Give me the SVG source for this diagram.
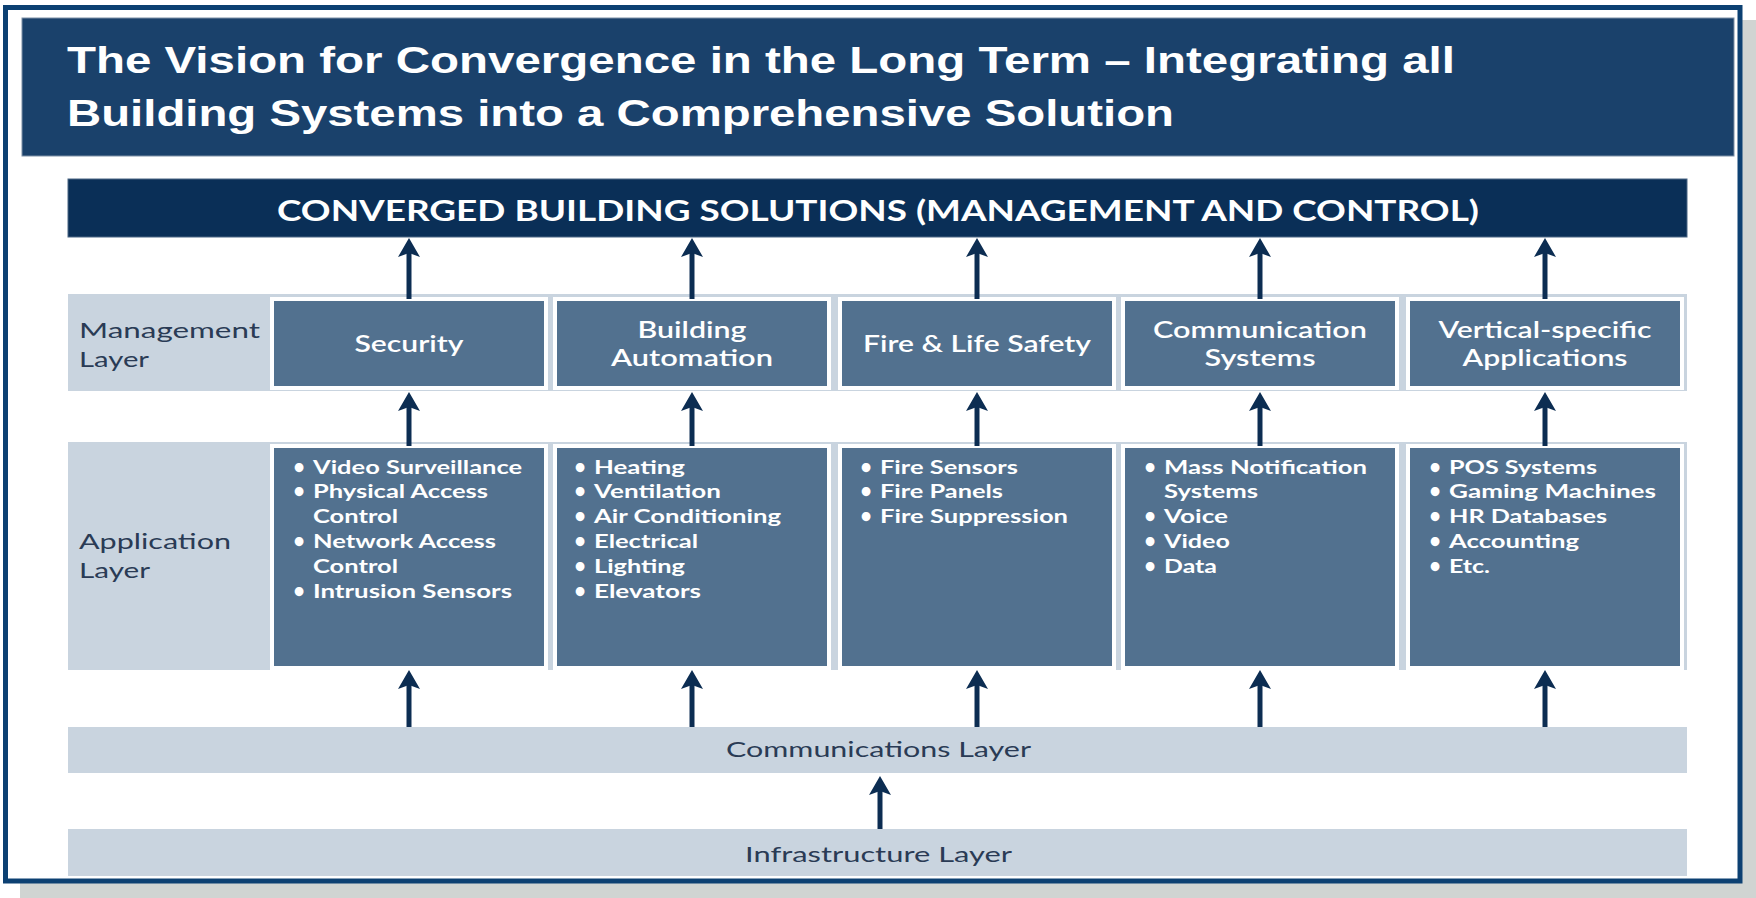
<svg xmlns="http://www.w3.org/2000/svg" width="1756" height="898" viewBox="0 0 1756 898">
  <style>
    .title{font-family:"Liberation Sans",Arial,sans-serif;font-weight:bold;font-size:36.5px;fill:#ffffff}
    .conv{font-family:Lato,"Open Sans",sans-serif;font-weight:bold;font-size:29px;fill:#ffffff}
    .lbl{font-family:Lato,"Open Sans",sans-serif;font-size:22px;fill:#2a3b55}
    .hd{font-family:Lato,"Open Sans",sans-serif;font-weight:600;font-size:23px;fill:#ffffff}
    .it{font-family:Lato,"Open Sans",sans-serif;font-weight:bold;font-size:18px;fill:#ffffff}
    .bu{font-family:Lato,"Open Sans",sans-serif;font-weight:bold;font-size:20px;fill:#ffffff;text-anchor:middle}
    .band{fill:#c9d4df}
    .box{fill:#52718f;stroke:#ffffff;stroke-width:4}
    .arr{stroke:#0c2d52;stroke-width:5;fill:none;marker-end:url(#ah)}
  </style>
  <defs>
    <marker id="ah" markerUnits="userSpaceOnUse" markerWidth="30" markerHeight="30" refX="0" refY="0" orient="auto" overflow="visible">
      <path d="M11,0 L-8,-11 L-4,0 L-8,11 Z" fill="#0c2d52"/>
    </marker>
  </defs>

  <rect x="0" y="0" width="1756" height="898" fill="#ffffff"/>
  <g id="frame">
    <rect x="20" y="20" width="1736" height="878" fill="#d0d4d2"/>
    <rect x="5.5" y="7.5" width="1734.5" height="873.5" fill="#ffffff" stroke="#0c4072" stroke-width="5"/>
  </g>

  <g id="title">
    <rect x="22" y="18" width="1712" height="138" fill="#1a416b" stroke="#7d90a6" stroke-width="1"/>
    <text class="title" x="67" y="73" textLength="1388" lengthAdjust="spacingAndGlyphs">The Vision for Convergence in the Long Term – Integrating all</text>
    <text class="title" x="67" y="126" textLength="1107" lengthAdjust="spacingAndGlyphs">Building Systems into a Comprehensive Solution</text>
  </g>

  <g id="converged">
    <rect x="68" y="179" width="1619" height="58" fill="#0a2f57" stroke="#4a6684" stroke-width="1"/>
    <text class="conv" x="277" y="221" textLength="1202" lengthAdjust="spacingAndGlyphs">CONVERGED BUILDING SOLUTIONS (MANAGEMENT AND CONTROL)</text>
  </g>

  <g id="management-layer">
    <rect class="band" x="68" y="294" width="1619" height="97"/>
    <text class="lbl" x="79" y="338" textLength="181" lengthAdjust="spacingAndGlyphs">Management</text>
    <text class="lbl" x="79" y="367" textLength="70" lengthAdjust="spacingAndGlyphs">Layer</text>
  </g>

  <g id="application-layer">
    <rect class="band" x="68" y="442" width="1619" height="228"/>
    <text class="lbl" x="79" y="549" textLength="152" lengthAdjust="spacingAndGlyphs">Application</text>
    <text class="lbl" x="79" y="578" textLength="71" lengthAdjust="spacingAndGlyphs">Layer</text>
  </g>

  <g id="communications-layer">
    <rect class="band" x="68" y="727" width="1619" height="46"/>
    <text class="lbl" x="726" y="757" textLength="305" lengthAdjust="spacingAndGlyphs">Communications Layer</text>
  </g>

  <g id="infrastructure-layer">
    <rect class="band" x="68" y="829" width="1619" height="47"/>
    <text class="lbl" x="745" y="862" textLength="267" lengthAdjust="spacingAndGlyphs">Infrastructure Layer</text>
  </g>

  <!-- Management boxes -->
  <g id="mgmt-security">
    <rect class="box" x="272" y="299" width="274" height="89"/>
    <text class="hd" x="354.5" y="352" textLength="109" lengthAdjust="spacingAndGlyphs">Security</text>
  </g>
  <g id="mgmt-building-automation">
    <rect class="box" x="555" y="299" width="274" height="89"/>
    <text class="hd" x="637.5" y="338" textLength="109" lengthAdjust="spacingAndGlyphs">Building</text>
    <text class="hd" x="611" y="366" textLength="162" lengthAdjust="spacingAndGlyphs">Automation</text>
  </g>
  <g id="mgmt-fire-life-safety">
    <rect class="box" x="840" y="299" width="274" height="89"/>
    <text class="hd" x="863" y="352" textLength="228" lengthAdjust="spacingAndGlyphs">Fire &amp; Life Safety</text>
  </g>
  <g id="mgmt-communication-systems">
    <rect class="box" x="1123" y="299" width="274" height="89"/>
    <text class="hd" x="1153" y="338" textLength="214" lengthAdjust="spacingAndGlyphs">Communication</text>
    <text class="hd" x="1204.5" y="366" textLength="111" lengthAdjust="spacingAndGlyphs">Systems</text>
  </g>
  <g id="mgmt-vertical-specific">
    <rect class="box" x="1408" y="299" width="274" height="89"/>
    <text class="hd" x="1438.5" y="338" textLength="213" lengthAdjust="spacingAndGlyphs">Vertical-specific</text>
    <text class="hd" x="1462.5" y="366" textLength="165" lengthAdjust="spacingAndGlyphs">Applications</text>
  </g>

  <!-- Application boxes -->
  <g id="app-security">
    <rect class="box" x="272" y="446" width="274" height="222"/>
    <text class="bu" x="299" y="474">•</text>
    <text class="it" x="313" y="474" textLength="209" lengthAdjust="spacingAndGlyphs">Video Surveillance</text>
    <text class="bu" x="299" y="498">•</text>
    <text class="it" x="313" y="498" textLength="175" lengthAdjust="spacingAndGlyphs">Physical Access</text>
    <text class="it" x="313" y="523" textLength="85" lengthAdjust="spacingAndGlyphs">Control</text>
    <text class="bu" x="299" y="548">•</text>
    <text class="it" x="313" y="548" textLength="183" lengthAdjust="spacingAndGlyphs">Network Access</text>
    <text class="it" x="313" y="573" textLength="85" lengthAdjust="spacingAndGlyphs">Control</text>
    <text class="bu" x="299" y="598">•</text>
    <text class="it" x="313" y="598" textLength="199" lengthAdjust="spacingAndGlyphs">Intrusion Sensors</text>
  </g>
  <g id="app-building-automation">
    <rect class="box" x="555" y="446" width="274" height="222"/>
    <text class="bu" x="580" y="474">•</text>
    <text class="it" x="594" y="474" textLength="91" lengthAdjust="spacingAndGlyphs">Heating</text>
    <text class="bu" x="580" y="498">•</text>
    <text class="it" x="594" y="498" textLength="127" lengthAdjust="spacingAndGlyphs">Ventilation</text>
    <text class="bu" x="580" y="523">•</text>
    <text class="it" x="594" y="523" textLength="187" lengthAdjust="spacingAndGlyphs">Air Conditioning</text>
    <text class="bu" x="580" y="548">•</text>
    <text class="it" x="594" y="548" textLength="104" lengthAdjust="spacingAndGlyphs">Electrical</text>
    <text class="bu" x="580" y="573">•</text>
    <text class="it" x="594" y="573" textLength="91" lengthAdjust="spacingAndGlyphs">Lighting</text>
    <text class="bu" x="580" y="598">•</text>
    <text class="it" x="594" y="598" textLength="107" lengthAdjust="spacingAndGlyphs">Elevators</text>
  </g>
  <g id="app-fire-life-safety">
    <rect class="box" x="840" y="446" width="274" height="222"/>
    <text class="bu" x="866" y="474">•</text>
    <text class="it" x="880" y="474" textLength="138" lengthAdjust="spacingAndGlyphs">Fire Sensors</text>
    <text class="bu" x="866" y="498">•</text>
    <text class="it" x="880" y="498" textLength="123" lengthAdjust="spacingAndGlyphs">Fire Panels</text>
    <text class="bu" x="866" y="523">•</text>
    <text class="it" x="880" y="523" textLength="188" lengthAdjust="spacingAndGlyphs">Fire Suppression</text>
  </g>
  <g id="app-communication-systems">
    <rect class="box" x="1123" y="446" width="274" height="222"/>
    <text class="bu" x="1150" y="474">•</text>
    <text class="it" x="1164" y="474" textLength="203" lengthAdjust="spacingAndGlyphs">Mass Notification</text>
    <text class="it" x="1164" y="498" textLength="94" lengthAdjust="spacingAndGlyphs">Systems</text>
    <text class="bu" x="1150" y="523">•</text>
    <text class="it" x="1164" y="523" textLength="64" lengthAdjust="spacingAndGlyphs">Voice</text>
    <text class="bu" x="1150" y="548">•</text>
    <text class="it" x="1164" y="548" textLength="66" lengthAdjust="spacingAndGlyphs">Video</text>
    <text class="bu" x="1150" y="573">•</text>
    <text class="it" x="1164" y="573" textLength="53" lengthAdjust="spacingAndGlyphs">Data</text>
  </g>
  <g id="app-vertical-specific">
    <rect class="box" x="1408" y="446" width="274" height="222"/>
    <text class="bu" x="1435" y="474">•</text>
    <text class="it" x="1449" y="474" textLength="148" lengthAdjust="spacingAndGlyphs">POS Systems</text>
    <text class="bu" x="1435" y="498">•</text>
    <text class="it" x="1449" y="498" textLength="207" lengthAdjust="spacingAndGlyphs">Gaming Machines</text>
    <text class="bu" x="1435" y="523">•</text>
    <text class="it" x="1449" y="523" textLength="158" lengthAdjust="spacingAndGlyphs">HR Databases</text>
    <text class="bu" x="1435" y="548">•</text>
    <text class="it" x="1449" y="548" textLength="130" lengthAdjust="spacingAndGlyphs">Accounting</text>
    <text class="bu" x="1435" y="573">•</text>
    <text class="it" x="1449" y="573" textLength="41" lengthAdjust="spacingAndGlyphs">Etc.</text>
  </g>

  <g id="connectors">
    <line class="arr" x1="409" y1="299" x2="409" y2="249"/>
    <line class="arr" x1="692" y1="299" x2="692" y2="249"/>
    <line class="arr" x1="977" y1="299" x2="977" y2="249"/>
    <line class="arr" x1="1260" y1="299" x2="1260" y2="249"/>
    <line class="arr" x1="1545" y1="299" x2="1545" y2="249"/>

    <line class="arr" x1="409" y1="446" x2="409" y2="403"/>
    <line class="arr" x1="692" y1="446" x2="692" y2="403"/>
    <line class="arr" x1="977" y1="446" x2="977" y2="403"/>
    <line class="arr" x1="1260" y1="446" x2="1260" y2="403"/>
    <line class="arr" x1="1545" y1="446" x2="1545" y2="403"/>

    <line class="arr" x1="409" y1="727" x2="409" y2="681"/>
    <line class="arr" x1="692" y1="727" x2="692" y2="681"/>
    <line class="arr" x1="977" y1="727" x2="977" y2="681"/>
    <line class="arr" x1="1260" y1="727" x2="1260" y2="681"/>
    <line class="arr" x1="1545" y1="727" x2="1545" y2="681"/>

    <line class="arr" x1="880" y1="829" x2="880" y2="787"/>
  </g>
</svg>
